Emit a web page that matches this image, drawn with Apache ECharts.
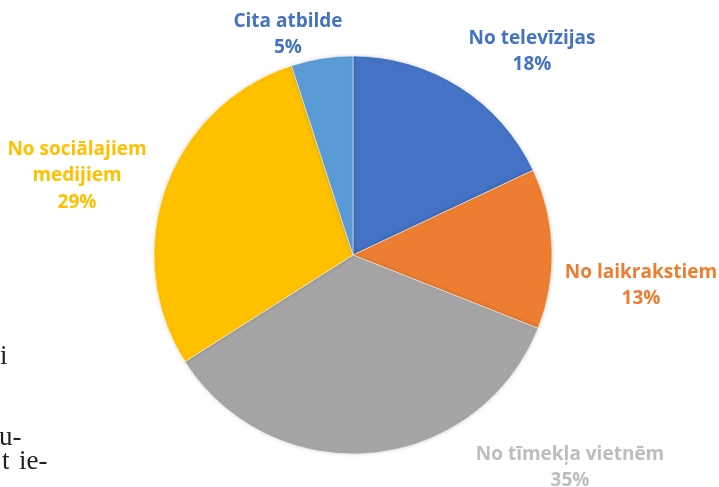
<!DOCTYPE html>
<html><head><meta charset="utf-8">
<script src="https://cdn.jsdelivr.net/npm/echarts@6/dist/echarts.min.js"></script>
<style>html,body{margin:0;padding:0;background:#fff}#c{width:719px;height:487px}</style>
</head><body><div id="c"></div>
<script>
const categories = ['No televīzijas', 'No laikrakstiem', 'No tīmekļa vietnēm', 'No sociālajiem\nmedijiem', 'Cita atbilde'];
const values = [18, 13, 35, 29, 5];
const sliceColors = ['#4472C4', '#ED7D31', '#A5A5A5', '#FFC000', '#5B9BD5'];
const labelColors = ['#4472C4', '#ED7D31', '#BDBDBD', '#FFC000', '#4472C4'];
const labelPos = [[532, 25], [641, 259], [570, 441], [77, 136], [288, 8]];

const chart = echarts.init(document.getElementById('c'));
chart.setOption({
  animation: false,
  series: [{
    type: 'pie',
    center: [353, 255],
    radius: 199,
    startAngle: 90,
    clockwise: true,
    data: categories.map((n, i) => ({
      name: n, value: values[i],
      itemStyle: { color: sliceColors[i] },
      label: { color: labelColors[i] }
    })),
    itemStyle: { borderColor: '#fff', borderWidth: 0.5, shadowBlur: 4, shadowColor: 'rgba(0,0,0,0.15)' },
    label: {
      show: true,
      formatter: '{b}\n{c}%',
      fontFamily: 'Open Sans',
      fontWeight: 'bold',
      fontSize: 19,
      lineHeight: 26.5,
      align: 'center',
      overflow: 'none',
      width: 300
    },
    labelLine: { show: false },
    labelLayout: function (p) {
      const pos = labelPos[p.dataIndex];
      return { x: pos[0], y: pos[1], align: 'center', verticalAlign: 'top' };
    }
  }],
  graphic: [
    { type: 'text', style: { x: 0, y: 343, text: 'i', font: '27px "Liberation Serif"', fill: '#222' } },
    { type: 'text', style: { x: -1, y: 424, text: 'u-', font: '27px "Liberation Serif"', fill: '#222' } },
    { type: 'text', style: { x: 2, y: 448, text: 't', font: '27px "Liberation Serif"', fill: '#222' } },
    { type: 'text', style: { x: 19, y: 448, text: 'ie-', font: '27px "Liberation Serif"', fill: '#222' } }
  ]
});
</script></body></html>
